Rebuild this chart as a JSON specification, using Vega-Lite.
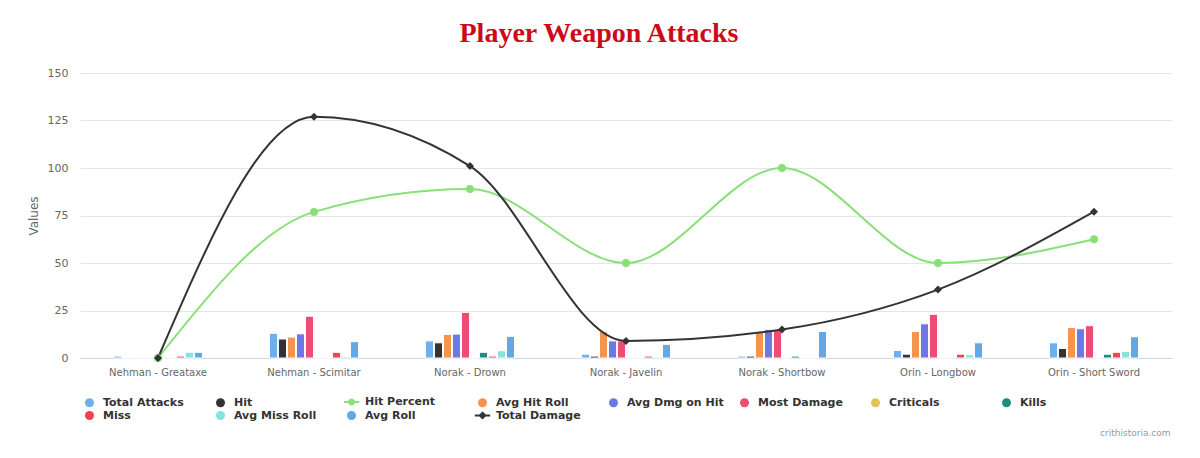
{
  "$schema": "https://vega.github.io/schema/vega-lite/v6.json",
  "width": 1092,
  "height": 285,
  "autosize": {"type": "none"},
  "padding": {"left": 80, "top": 73, "right": 28, "bottom": 100},
  "background": "white",
  "title": {"text": "Player Weapon Attacks", "font": "Liberation Serif", "fontSize": 28, "fontWeight": "bold", "color": "#cc0a18", "anchor": "middle", "offset": 19, "dx": -27},
  "config": {"font": "DejaVu Sans", "view": {"stroke": null}},
  "data": {"values": [
    {"w": "Nehman - Greataxe", "s": "Total Attacks", "v": 1},
    {"w": "Nehman - Greataxe", "s": "Hit", "v": 0},
    {"w": "Nehman - Greataxe", "s": "Hit Percent", "v": 0},
    {"w": "Nehman - Greataxe", "s": "Avg Hit Roll", "v": 0},
    {"w": "Nehman - Greataxe", "s": "Avg Dmg on Hit", "v": 0},
    {"w": "Nehman - Greataxe", "s": "Most Damage", "v": 0},
    {"w": "Nehman - Greataxe", "s": "Criticals", "v": 0},
    {"w": "Nehman - Greataxe", "s": "Kills", "v": 0},
    {"w": "Nehman - Greataxe", "s": "Miss", "v": 1},
    {"w": "Nehman - Greataxe", "s": "Avg Miss Roll", "v": 3},
    {"w": "Nehman - Greataxe", "s": "Avg Roll", "v": 3},
    {"w": "Nehman - Greataxe", "s": "Total Damage", "v": 0},
    {"w": "Nehman - Scimitar", "s": "Total Attacks", "v": 13},
    {"w": "Nehman - Scimitar", "s": "Hit", "v": 10},
    {"w": "Nehman - Scimitar", "s": "Hit Percent", "v": 76.9},
    {"w": "Nehman - Scimitar", "s": "Avg Hit Roll", "v": 11},
    {"w": "Nehman - Scimitar", "s": "Avg Dmg on Hit", "v": 12.7},
    {"w": "Nehman - Scimitar", "s": "Most Damage", "v": 22},
    {"w": "Nehman - Scimitar", "s": "Criticals", "v": 0},
    {"w": "Nehman - Scimitar", "s": "Kills", "v": 0},
    {"w": "Nehman - Scimitar", "s": "Miss", "v": 3},
    {"w": "Nehman - Scimitar", "s": "Avg Miss Roll", "v": 0.7},
    {"w": "Nehman - Scimitar", "s": "Avg Roll", "v": 8.6},
    {"w": "Nehman - Scimitar", "s": "Total Damage", "v": 127},
    {"w": "Norak - Drown", "s": "Total Attacks", "v": 9},
    {"w": "Norak - Drown", "s": "Hit", "v": 8},
    {"w": "Norak - Drown", "s": "Hit Percent", "v": 88.9},
    {"w": "Norak - Drown", "s": "Avg Hit Roll", "v": 12.4},
    {"w": "Norak - Drown", "s": "Avg Dmg on Hit", "v": 12.6},
    {"w": "Norak - Drown", "s": "Most Damage", "v": 24},
    {"w": "Norak - Drown", "s": "Criticals", "v": 0},
    {"w": "Norak - Drown", "s": "Kills", "v": 3},
    {"w": "Norak - Drown", "s": "Miss", "v": 1},
    {"w": "Norak - Drown", "s": "Avg Miss Roll", "v": 3.8},
    {"w": "Norak - Drown", "s": "Avg Roll", "v": 11.4},
    {"w": "Norak - Drown", "s": "Total Damage", "v": 101},
    {"w": "Norak - Javelin", "s": "Total Attacks", "v": 2},
    {"w": "Norak - Javelin", "s": "Hit", "v": 1},
    {"w": "Norak - Javelin", "s": "Hit Percent", "v": 50},
    {"w": "Norak - Javelin", "s": "Avg Hit Roll", "v": 14},
    {"w": "Norak - Javelin", "s": "Avg Dmg on Hit", "v": 9},
    {"w": "Norak - Javelin", "s": "Most Damage", "v": 9},
    {"w": "Norak - Javelin", "s": "Criticals", "v": 0},
    {"w": "Norak - Javelin", "s": "Kills", "v": 0},
    {"w": "Norak - Javelin", "s": "Miss", "v": 1},
    {"w": "Norak - Javelin", "s": "Avg Miss Roll", "v": 0.5},
    {"w": "Norak - Javelin", "s": "Avg Roll", "v": 7.2},
    {"w": "Norak - Javelin", "s": "Total Damage", "v": 9},
    {"w": "Norak - Shortbow", "s": "Total Attacks", "v": 1},
    {"w": "Norak - Shortbow", "s": "Hit", "v": 1},
    {"w": "Norak - Shortbow", "s": "Hit Percent", "v": 100},
    {"w": "Norak - Shortbow", "s": "Avg Hit Roll", "v": 14},
    {"w": "Norak - Shortbow", "s": "Avg Dmg on Hit", "v": 15},
    {"w": "Norak - Shortbow", "s": "Most Damage", "v": 15},
    {"w": "Norak - Shortbow", "s": "Criticals", "v": 0},
    {"w": "Norak - Shortbow", "s": "Kills", "v": 1},
    {"w": "Norak - Shortbow", "s": "Miss", "v": 0},
    {"w": "Norak - Shortbow", "s": "Avg Miss Roll", "v": 0},
    {"w": "Norak - Shortbow", "s": "Avg Roll", "v": 14},
    {"w": "Norak - Shortbow", "s": "Total Damage", "v": 15},
    {"w": "Orin - Longbow", "s": "Total Attacks", "v": 4},
    {"w": "Orin - Longbow", "s": "Hit", "v": 2},
    {"w": "Orin - Longbow", "s": "Hit Percent", "v": 50},
    {"w": "Orin - Longbow", "s": "Avg Hit Roll", "v": 14},
    {"w": "Orin - Longbow", "s": "Avg Dmg on Hit", "v": 18},
    {"w": "Orin - Longbow", "s": "Most Damage", "v": 23},
    {"w": "Orin - Longbow", "s": "Criticals", "v": 0},
    {"w": "Orin - Longbow", "s": "Kills", "v": 0},
    {"w": "Orin - Longbow", "s": "Miss", "v": 2},
    {"w": "Orin - Longbow", "s": "Avg Miss Roll", "v": 1.7},
    {"w": "Orin - Longbow", "s": "Avg Roll", "v": 8},
    {"w": "Orin - Longbow", "s": "Total Damage", "v": 36},
    {"w": "Orin - Short Sword", "s": "Total Attacks", "v": 8},
    {"w": "Orin - Short Sword", "s": "Hit", "v": 5},
    {"w": "Orin - Short Sword", "s": "Hit Percent", "v": 62.5},
    {"w": "Orin - Short Sword", "s": "Avg Hit Roll", "v": 16},
    {"w": "Orin - Short Sword", "s": "Avg Dmg on Hit", "v": 15.4},
    {"w": "Orin - Short Sword", "s": "Most Damage", "v": 17},
    {"w": "Orin - Short Sword", "s": "Criticals", "v": 0},
    {"w": "Orin - Short Sword", "s": "Kills", "v": 2},
    {"w": "Orin - Short Sword", "s": "Miss", "v": 3},
    {"w": "Orin - Short Sword", "s": "Avg Miss Roll", "v": 3.5},
    {"w": "Orin - Short Sword", "s": "Avg Roll", "v": 11.2},
    {"w": "Orin - Short Sword", "s": "Total Damage", "v": 77}
  ]},
  "encoding": {
    "x": {
      "field": "w", "type": "nominal", "sort": null,
      "scale": {"paddingInner": 0.423, "paddingOuter": 0.2115},
      "axis": {
        "labelAngle": 0, "labelFontSize": 10, "labelColor": "#666666", "labelPadding": 9,
        "ticks": false, "grid": false, "domainColor": "#ccd6eb", "domainWidth": 1,
        "title": "crithistoria.com", "titleFontSize": 9, "titleColor": "#999999", "titleFontWeight": "normal",
        "titleX": 1090, "titleY": 74, "titleAlign": "right", "titleBaseline": "middle", "titleAnchor": null
      }
    },
    "y": {
      "field": "v", "type": "quantitative",
      "scale": {"domain": [0, 150], "nice": false},
      "axis": {
        "values": [0, 25, 50, 75, 100, 125, 150],
        "title": "Values", "titleFontSize": 12, "titleColor": "#666666", "titleFontWeight": "normal", "titlePadding": 7,
        "grid": true, "gridColor": "#e6e6e6", "domain": false, "ticks": false,
        "labelFontSize": 11, "labelColor": "#666666", "labelPadding": 12
      }
    }
  },
  "layer": [
    {
      "transform": [{"filter": {"field": "s", "oneOf": ["Total Attacks", "Hit", "Avg Hit Roll", "Avg Dmg on Hit", "Most Damage", "Criticals", "Kills", "Miss", "Avg Miss Roll", "Avg Roll"]}}],
      "mark": {"type": "bar", "stroke": "white", "strokeWidth": 1},
      "encoding": {
        "xOffset": {"field": "s", "type": "nominal", "scale": {"domain": ["Total Attacks", "Hit", "Avg Hit Roll", "Avg Dmg on Hit", "Most Damage", "Criticals", "Kills", "Miss", "Avg Miss Roll", "Avg Roll"], "paddingInner": 0.1, "paddingOuter": 0.05}},
        "color": {
          "field": "s", "type": "nominal",
          "scale": {
            "domain": ["Total Attacks", "Hit", "Hit Percent", "Avg Hit Roll", "Avg Dmg on Hit", "Most Damage", "Criticals", "Kills", "Miss", "Avg Miss Roll", "Avg Roll", "Total Damage"],
            "range": ["#6fb0ea", "#333336", "#88e076", "#f7944c", "#6f78e0", "#f04a75", "#e4c454", "#1f8a80", "#f2424f", "#84e4dc", "#62a8e6", "#333336"]
          },
          "legend": {
            "title": null, "orient": "none", "legendX": 4, "legendY": 323, "direction": "horizontal", "columns": 8,
            "gridAlign": "all", "columnPadding": 8, "rowPadding": -1, "padding": 0,
            "symbolSize": 81, "labelOffset": 8,
            "symbolType": {"expr": "datum.value === 'Hit Percent' ? 'M-1.7,0L1.7,0M-0.55,0A0.55,0.55 0 1,0 0.55,0A0.55,0.55 0 1,0 -0.55,0Z' : (datum.value === 'Total Damage' ? 'M-1.7,0L1.7,0M0,-0.6L0.6,0L0,0.6L-0.6,0Z' : 'circle')"},
            "symbolStrokeColor": {"expr": "scale('color', datum.value)"},
            "symbolStrokeWidth": {"expr": "datum.value === 'Hit Percent' || datum.value === 'Total Damage' ? 2 : 0"},
            "labelFont": "DejaVu Sans", "labelFontSize": 11, "labelFontWeight": "bold", "labelColor": "#333333"
          }
        }
      }
    },
    {
      "transform": [{"filter": {"field": "s", "oneOf": ["Hit Percent", "Total Damage"]}}],
      "mark": {"type": "line", "interpolate": "monotone", "strokeWidth": 2},
      "encoding": {
        "color": {"field": "s", "type": "nominal", "legend": null}
      }
    },
    {
      "transform": [{"filter": {"field": "s", "oneOf": ["Hit Percent", "Total Damage"]}}],
      "mark": {"type": "point", "filled": true, "size": 64, "opacity": 1},
      "encoding": {
        "color": {"field": "s", "type": "nominal", "legend": null},
        "shape": {"field": "s", "type": "nominal", "scale": {"domain": ["Hit Percent", "Total Damage"], "range": ["circle", "diamond"]}, "legend": null}
      }
    }
  ]
}
